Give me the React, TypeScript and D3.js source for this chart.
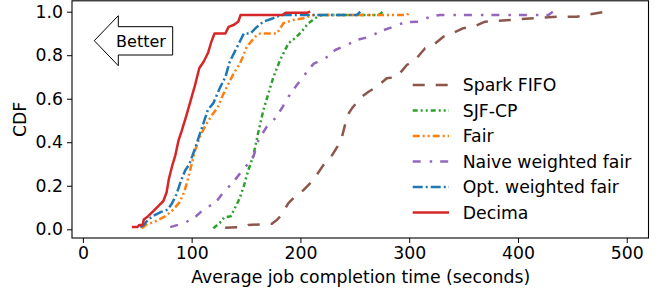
import { useEffect, useRef } from 'react';
import * as d3 from 'd3';

// --- data: [seconds, cdf] ---
const sparkFifo: [number, number][] = [
  [130.8, 0.007], [143, 0.01], [150.7, 0.015], [152.2, 0.02], [173.7, 0.025], [178.3, 0.043],
  [181.3, 0.058], [189, 0.12], [195, 0.15], [202.8, 0.18], [212, 0.227], [218.1, 0.273],
  [224.3, 0.318], [229, 0.34], [234, 0.38], [238, 0.42], [241, 0.48], [244, 0.53], [248, 0.56],
  [253, 0.59], [258, 0.615], [262.6, 0.632], [270.2, 0.655], [279.4, 0.694], [288.6, 0.7],
  [297.8, 0.755], [305.4, 0.778], [314.6, 0.832], [322.2, 0.847], [331.4, 0.885], [339.2, 0.9],
  [349.8, 0.924], [359, 0.931], [369.8, 0.954], [392.7, 0.962], [414.2, 0.97], [435.7, 0.977],
  [454, 0.977], [463.2, 0.985], [480, 1.0],
];
const sjfCp: [number, number][] = [
  [120, 0.005], [126, 0.03], [130, 0.055], [136, 0.06], [140, 0.1], [144, 0.14], [148, 0.2],
  [152, 0.27], [156.8, 0.34], [161, 0.44], [166, 0.548], [170.6, 0.625], [175.2, 0.7],
  [181.3, 0.778], [189, 0.855], [195, 0.878], [201, 0.908], [207.3, 0.947], [213.5, 0.97],
  [219.7, 0.985], [272, 0.985], [276, 1.0],
];
const fair: [number, number][] = [
  [54, 0.005], [58, 0.02], [66, 0.035], [72, 0.05], [76, 0.06], [83, 0.09], [89, 0.125],
  [93, 0.17], [96, 0.22], [99, 0.28], [103, 0.36], [108, 0.43], [113, 0.48], [118, 0.52],
  [124, 0.56], [129, 0.62], [134, 0.67], [139, 0.72], [144.6, 0.763], [150.7, 0.839],
  [158.4, 0.885], [163, 0.9], [178.3, 0.9], [184.4, 0.947], [193.6, 0.962], [202.8, 0.97],
  [212, 0.985], [298, 0.985], [301, 1.0],
];
const naiveWeighted: [number, number][] = [
  [80.3, 0.01], [94, 0.03], [104, 0.06], [112.4, 0.097], [121.6, 0.12], [129.2, 0.17],
  [137, 0.21], [144.6, 0.257], [152.2, 0.303], [156.8, 0.334], [161.4, 0.41], [169.1, 0.472],
  [176.8, 0.51], [182.9, 0.556], [189, 0.609], [196.7, 0.663], [204.3, 0.713], [212, 0.76],
  [223, 0.786], [232, 0.824], [242.6, 0.847], [251.8, 0.87], [264, 0.885], [273.3, 0.91],
  [285.5, 0.931], [296.2, 0.952], [308.4, 0.954], [319.2, 0.977], [328.4, 0.985], [428, 0.985],
  [432, 1.0],
];
const optWeighted: [number, number][] = [
  [52.7, 0.01], [56, 0.02], [60, 0.045], [66, 0.065], [72, 0.08], [78, 0.09], [82, 0.12],
  [86, 0.16], [90, 0.22], [94, 0.27], [98, 0.3], [103, 0.37], [107, 0.43], [111, 0.49],
  [115, 0.55], [120, 0.58], [126, 0.65], [131, 0.7], [135, 0.77], [140, 0.82], [145, 0.87],
  [148, 0.9], [154, 0.9], [160, 0.93], [166, 0.954], [175, 0.97], [182, 0.985], [252, 0.985],
  [255, 1.0],
];
const decima: [number, number][] = [
  [45, 0.01], [50, 0.01], [52, 0.02], [55, 0.02], [56, 0.045], [60, 0.06], [65, 0.085],
  [70, 0.11], [74, 0.13], [77, 0.17], [79, 0.23], [82, 0.29], [85, 0.34], [88, 0.41],
  [91, 0.455], [95, 0.52], [99, 0.59], [103, 0.66], [107, 0.74], [111, 0.77], [115, 0.81],
  [118, 0.86], [121, 0.9], [131, 0.9], [134, 0.93], [139, 0.94], [143, 0.955], [145, 0.985],
  [184, 0.985], [186, 0.995], [206, 0.995], [209, 1.0],
];

const seriesNames = ['Spark FIFO', 'SJF-CP', 'Fair', 'Naive weighted fair', 'Opt. weighted fair', 'Decima'];
const seriesData = [sparkFifo, sjfCp, fair, naiveWeighted, optWeighted, decima];
const xTicks = [0, 100, 200, 300, 400, 500];
const yTicks = [0, 0.2, 0.4, 0.6, 0.8, 1.0];

// styles per series (tab10 colours, custom dash patterns)
const colors = ['#8c564b', '#2ca02c', '#ff7f0e', '#9467bd', '#1f77b4', '#d62728'];
const dashes = ['12,11', '5,3,2,3,2,3', '7,3,2,3,2,3', '8,9,2.5,8', '10,3,2,3', null];

const W = 658;
const H = 292;
const FONT = 'DejaVu Sans, sans-serif';

const App = () => {
  const svgRef = useRef<SVGSVGElement>(null);

  useEffect(() => {
    const svg = d3.select(svgRef.current);
    svg.selectAll('*').remove();

    const left = 72, right = 648.5, top = 0.8, bottom = 238;
    const x = d3.scaleLinear().domain([-10, 520]).range([left, right]);
    const y = d3.scaleLinear().domain([-0.04, 1.05]).range([bottom, top]);

    const line = d3.line<[number, number]>()
      .x(d => x(d[0]))
      .y(d => y(d[1]));

    // curves
    const plot = svg.append('g');
    seriesData.forEach((data, i) => {
      plot.append('path')
        .attr('d', line(data))
        .attr('fill', 'none')
        .attr('stroke', colors[i])
        .attr('stroke-width', 2.5)
        .attr('stroke-dasharray', dashes[i])
        .attr('stroke-linejoin', 'round');
    });

    // frame
    svg.append('rect')
      .attr('x', left).attr('y', top)
      .attr('width', right - left).attr('height', bottom - top)
      .attr('fill', 'none').attr('stroke', '#000').attr('stroke-width', 1.1);

    // x axis
    const xAxis = svg.append('g')
      .attr('transform', `translate(0,${bottom})`)
      .call(d3.axisBottom(x).tickValues(xTicks).tickSize(5).tickPadding(4).tickFormat(d3.format('d')));
    xAxis.select('.domain').remove();

    // y axis
    const yAxis = svg.append('g')
      .attr('transform', `translate(${left},0)`)
      .call(d3.axisLeft(y).tickValues(yTicks).tickSize(5).tickPadding(4).tickFormat(d3.format('.1f')));
    yAxis.select('.domain').remove();

    svg.selectAll('.tick text')
      .attr('font-family', FONT)
      .attr('font-size', 17.3)
      .attr('fill', '#000');
    svg.selectAll('.tick line').attr('stroke', '#000').attr('stroke-width', 1);

    // axis labels
    svg.append('text')
      .attr('x', (left + right) / 2 + 0.5).attr('y', 283)
      .attr('text-anchor', 'middle')
      .attr('font-family', FONT).attr('font-size', 17.3)
      .text('Average job completion time (seconds)');

    svg.append('text')
      .attr('transform', `translate(26,${(top + bottom) / 2}) rotate(-90)`)
      .attr('text-anchor', 'middle')
      .attr('font-family', FONT).attr('font-size', 17.3)
      .text('CDF');

    // legend (no frame)
    const legend = svg.append('g');
    seriesNames.forEach((name, i) => {
      const cy = 85 + i * 25.5;
      legend.append('line')
        .attr('x1', 412.7).attr('x2', 449)
        .attr('y1', cy).attr('y2', cy)
        .attr('stroke', colors[i])
        .attr('stroke-width', 2.5)
        .attr('stroke-dasharray', dashes[i]);
      legend.append('text')
        .attr('x', 462.7).attr('y', cy + 6.3)
        .attr('font-family', FONT).attr('font-size', 17.3)
        .text(name);
    });

    // "Better" arrow box
    const arrow = svg.append('g');
    arrow.append('path')
      .attr('d', 'M94.3,40.7 L118.3,15.7 L118.3,26.7 L172.7,26.7 L172.7,55 L118.3,55 L118.3,65.7 Z')
      .attr('fill', '#fff').attr('stroke', '#000').attr('stroke-width', 1);
    arrow.append('text')
      .attr('x', 141).attr('y', 46.5)
      .attr('text-anchor', 'middle')
      .attr('font-family', FONT).attr('font-size', 16)
      .text('Better');
  }, []);

  return (
    <svg ref={svgRef} width={W} height={H} style={{ position: 'absolute', left: 0, top: 0, background: '#fff' }} />
  );
};

export default App;
